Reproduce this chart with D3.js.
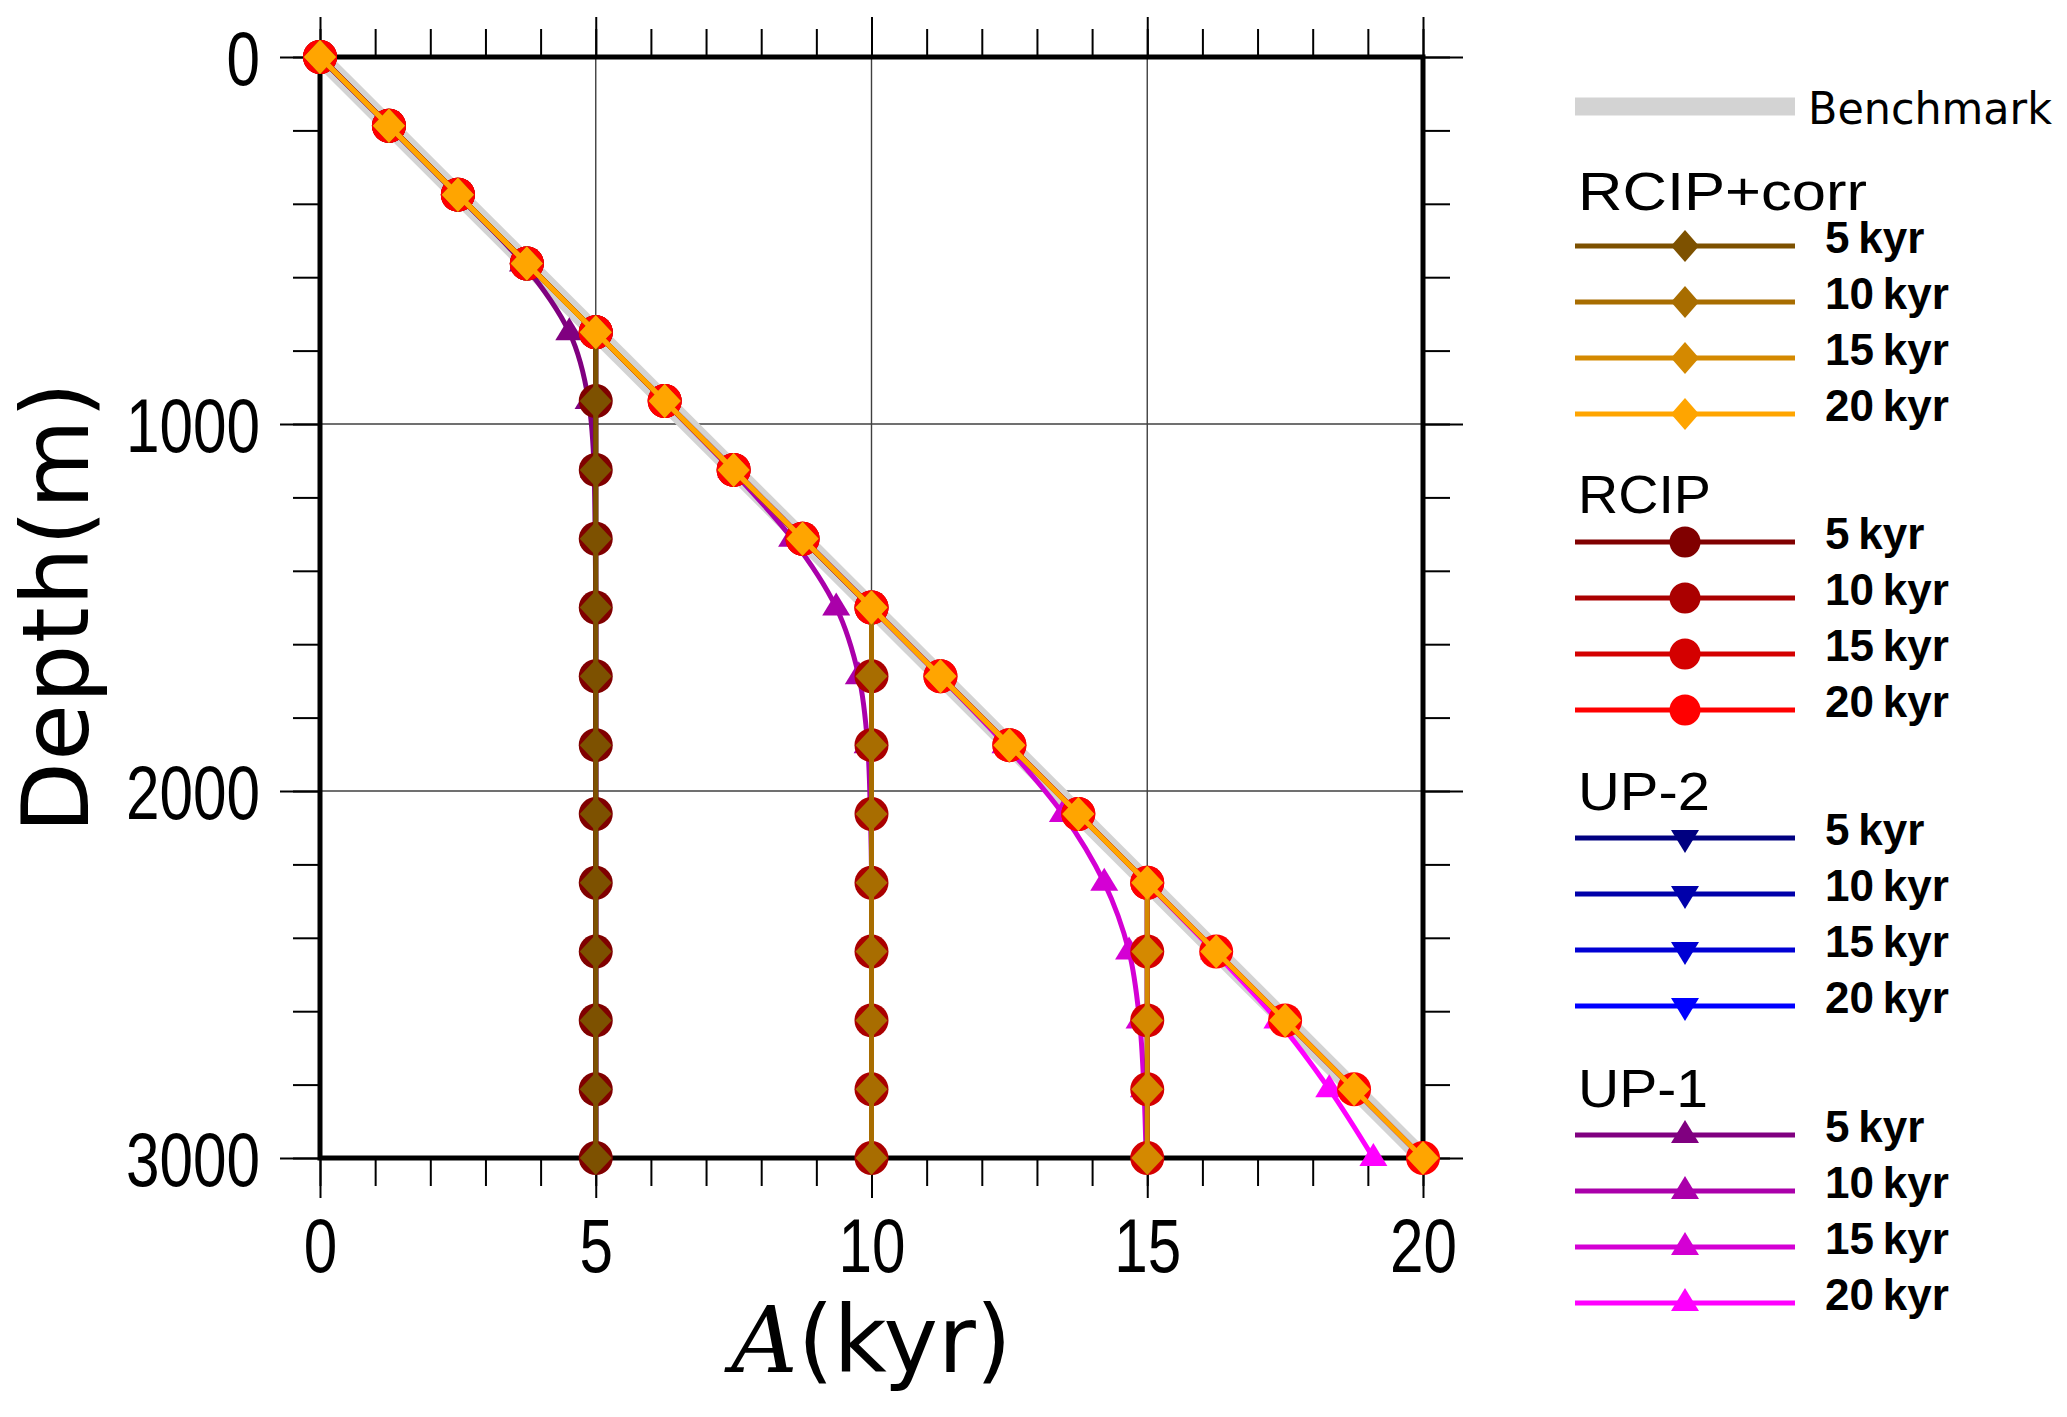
<!DOCTYPE html>
<html>
<head>
<meta charset="utf-8">
<script src="https://cdn.jsdelivr.net/npm/d3@7"></script>
<style>
  body { margin: 0; background: #fff; }
  .tick line { stroke: #000; stroke-width: 2; }
  .tick text { fill: #000; font-family: "Liberation Sans", Arial, sans-serif; font-size: 76px; }
  .grid { stroke: #404040; stroke-width: 1.4; }
  .frame { fill: none; stroke: #000; stroke-width: 5; }
  .leg { font-family: "Liberation Sans", Arial, sans-serif; fill: #000; }
</style>
</head>
<body>
<div id="chart"></div>
<script>
// depth of every sample (m)
var depth = [0, 187.5, 375, 562.5, 750, 937.5, 1125, 1312.5, 1500, 1687.5, 1875, 2062.5, 2250, 2437.5, 2625, 2812.5, 3000];

// benchmark age-depth line
var benchDepth = [0, 3000];
var benchAge = [0, 20];

// RCIP+corr ages (kyr)
var corr5  = [0, 1.25, 2.5, 3.75, 5, 5, 5, 5, 5, 5, 5, 5, 5, 5, 5, 5, 5];
var corr10 = [0, 1.25, 2.5, 3.75, 5, 6.25, 7.5, 8.75, 10, 10, 10, 10, 10, 10, 10, 10, 10];
var corr15 = [0, 1.25, 2.5, 3.75, 5, 6.25, 7.5, 8.75, 10, 11.25, 12.5, 13.75, 15, 15, 15, 15, 15];
var corr20 = [0, 1.25, 2.5, 3.75, 5, 6.25, 7.5, 8.75, 10, 11.25, 12.5, 13.75, 15, 16.25, 17.5, 18.75, 20];

// RCIP ages (kyr)
var rcip5  = [0, 1.25, 2.5, 3.75, 5, 5, 5, 5, 5, 5, 5, 5, 5, 5, 5, 5, 5];
var rcip10 = [0, 1.25, 2.5, 3.75, 5, 6.25, 7.5, 8.75, 10, 10, 10, 10, 10, 10, 10, 10, 10];
var rcip15 = [0, 1.25, 2.5, 3.75, 5, 6.25, 7.5, 8.75, 10, 11.25, 12.5, 13.75, 15, 15, 15, 15, 15];
var rcip20 = [0, 1.25, 2.5, 3.75, 5, 6.25, 7.5, 8.75, 10, 11.25, 12.5, 13.75, 15, 16.25, 17.5, 18.75, 20];

// UP-2 ages (kyr)
var up2_5  = [0, 1.25, 2.5, 3.75, 5, 5, 5, 5, 5, 5, 5, 5, 5, 5, 5, 5, 5];
var up2_10 = [0, 1.25, 2.5, 3.75, 5, 6.25, 7.5, 8.75, 10, 10, 10, 10, 10, 10, 10, 10, 10];
var up2_15 = [0, 1.25, 2.5, 3.75, 5, 6.25, 7.5, 8.75, 10, 11.25, 12.5, 13.75, 15, 15, 15, 15, 15];
var up2_20 = [0, 1.25, 2.5, 3.75, 5, 6.25, 7.5, 8.75, 10, 11.25, 12.5, 13.75, 15, 16.25, 17.5, 18.75, 20];

// UP-1 ages (kyr)
var up1_5  = [0, 1.25, 2.49, 3.68, 4.52, 4.87, 4.97, 4.99, 5, 5, 5, 5, 5, 5, 5, 5, 5];
var up1_10 = [0, 1.25, 2.5, 3.75, 5, 6.24, 7.46, 8.56, 9.36, 9.77, 9.93, 9.98, 10, 10, 10, 10, 10];
var up1_15 = [0, 1.25, 2.5, 3.75, 5, 6.25, 7.5, 8.75, 10, 11.24, 12.43, 13.47, 14.22, 14.67, 14.86, 14.94, 14.98];
var up1_20 = [0, 1.25, 2.5, 3.75, 5, 6.25, 7.5, 8.75, 10, 11.25, 12.5, 13.75, 14.99, 16.21, 17.36, 18.3, 19.1];

var timeLabels = ["5\u2009kyr", "10\u2009kyr", "15\u2009kyr", "20\u2009kyr"];
var xMajor = [0, 5, 10, 15, 20];
var yMajor = [0, 1000, 2000, 3000];

var corrColors = ["#7d5100", "#a86d00", "#d48900", "#ffa500"];
var rcipColors = ["#800000", "#aa0000", "#d40000", "#ff0000"];
var up2Colors = ["#000080", "#0000aa", "#0000d4", "#0000ff"];
var up1Colors = ["#800080", "#aa00aa", "#d400d4", "#ff00ff"];

// groups in legend order; drawn in reverse
var groups = [
  { name: "RCIP+corr", len: 289, shape: "diamond", colors: corrColors, ages: [corr5, corr10, corr15, corr20], curve: d3.curveLinear },
  { name: "RCIP", len: 133, shape: "circle", colors: rcipColors, ages: [rcip5, rcip10, rcip15, rcip20], curve: d3.curveLinear },
  { name: "UP-2", len: 132, shape: "down", colors: up2Colors, ages: [up2_5, up2_10, up2_15, up2_20], curve: d3.curveLinear },
  { name: "UP-1", len: 130, shape: "up", colors: up1Colors, ages: [up1_5, up1_10, up1_15, up1_20], curve: d3.curveMonotoneY }
];

var width = 2067, height = 1417;
var svg = d3.select("#chart").append("svg")
  .attr("width", width)
  .attr("height", height);

var x = d3.scaleLinear().domain([0, 20]).range([320, 1423]);
var y = d3.scaleLinear().domain([0, 3000]).range([57, 1158]);

function marker(shape, big) {
  if (shape == "diamond") return big ? "M0,-17L16,0L0,17L-16,0Z" : "M0,-16L14,0L0,16L-14,0Z";
  if (shape == "circle") { var r = big ? 17 : 15.5; return "M" + r + ",0A" + r + "," + r + " 0 1,1 " + (-r) + ",0A" + r + "," + r + " 0 1,1 " + r + ",0Z"; }
  if (shape == "up") return "M0,-15L14,8L-14,8Z";
  return "M0,15L14,-8L-14,-8Z";
}

// grid lines
svg.append("g").selectAll("line").data([5, 10, 15]).enter().append("line")
  .attr("class", "grid")
  .attr("x1", function(d) { return x(d); }).attr("x2", function(d) { return x(d); })
  .attr("y1", y(0)).attr("y2", y(3000));
svg.append("g").selectAll("line").data([1000, 2000]).enter().append("line")
  .attr("class", "grid")
  .attr("x1", x(0)).attr("x2", x(20))
  .attr("y1", function(d) { return y(d); }).attr("y2", function(d) { return y(d); });

// axes: minor and major ticks on every side
function addAxis(axis, tr, labels) {
  var g = svg.append("g").attr("transform", tr).call(axis);
  g.select(".domain").remove();
  g.attr("font-size", null).attr("font-family", null);
  if (!labels) g.selectAll("text").remove();
  // narrow digits like the original
  g.selectAll("text")
    .attr("textLength", function(d) { return String(d).length * 33.5; })
    .attr("lengthAdjust", "spacingAndGlyphs");
  return g;
}
addAxis(d3.axisTop(x).tickValues(d3.range(0, 21, 1)).tickSize(28), "translate(0," + y(0) + ")", false);
addAxis(d3.axisTop(x).tickValues(xMajor).tickSize(40), "translate(0," + y(0) + ")", false);
addAxis(d3.axisBottom(x).tickValues(d3.range(0, 21, 1)).tickSize(28), "translate(0," + y(3000) + ")", false);
addAxis(d3.axisBottom(x).tickValues(xMajor).tickSize(40).tickPadding(20).tickFormat(d3.format("d")), "translate(0," + y(3000) + ")", true);
addAxis(d3.axisLeft(y).tickValues(d3.range(0, 3001, 200)).tickSize(27), "translate(" + x(0) + ",0)", false);
addAxis(d3.axisLeft(y).tickValues(yMajor).tickSize(40).tickPadding(20).tickFormat(d3.format("d")), "translate(" + x(0) + ",0)", true)
  .selectAll("text").attr("dy", "0.36em");
addAxis(d3.axisRight(y).tickValues(d3.range(0, 3001, 200)).tickSize(27), "translate(" + x(20) + ",0)", false);
addAxis(d3.axisRight(y).tickValues(yMajor).tickSize(40), "translate(" + x(20) + ",0)", false);

// frame
svg.append("rect").attr("class", "frame")
  .attr("x", x(0)).attr("y", y(0))
  .attr("width", x(20) - x(0)).attr("height", y(3000) - y(0));

// benchmark
svg.append("path")
  .datum(d3.zip(benchAge, benchDepth))
  .attr("fill", "none")
  .attr("stroke", "#d3d3d3")
  .attr("stroke-width", 17)
  .attr("d", d3.line().x(function(d) { return x(d[0]); }).y(function(d) { return y(d[1]); }));

// series, UP-1 first so RCIP+corr ends on top
groups.slice().reverse().forEach(function(grp) {
  grp.ages.forEach(function(ages, i) {
    var pts = d3.zip(ages, depth);
    var line = d3.line()
      .x(function(d) { return x(d[0]); })
      .y(function(d) { return y(d[1]); })
      .curve(grp.curve);
    svg.append("path")
      .datum(pts)
      .attr("fill", "none")
      .attr("stroke", grp.colors[i])
      .attr("stroke-width", 5)
      .attr("d", line);
    svg.append("g").selectAll("path").data(pts).enter().append("path")
      .attr("transform", function(d) { return "translate(" + x(d[0]) + "," + y(d[1]) + ")"; })
      .attr("fill", grp.colors[i])
      .attr("d", marker(grp.shape, true));
  });
});

// axis titles
svg.append("text")
  .attr("transform", "translate(88," + ((y(0) + y(3000)) / 2) + ")rotate(-90)")
  .attr("text-anchor", "middle")
  .attr("font-family", "DejaVu Sans, sans-serif")
  .attr("font-size", 92)
  .attr("textLength", 451)
  .attr("lengthAdjust", "spacing")
  .text("Depth(m)");

var xt = svg.append("text")
  .attr("x", (x(0) + x(20)) / 2)
  .attr("y", 1372)
  .attr("text-anchor", "middle")
  .attr("font-family", "DejaVu Sans, sans-serif")
  .attr("font-size", 92);
xt.append("tspan").attr("font-family", "DejaVu Serif, serif").attr("font-style", "italic").text("A");
xt.append("tspan").text("(kyr)");

// legend
var legX0 = 1575, legX1 = 1795, legM = 1685, legText = 1825;
svg.append("line")
  .attr("x1", legX0).attr("x2", legX1)
  .attr("y1", 106.5).attr("y2", 106.5)
  .attr("stroke", "#d3d3d3").attr("stroke-width", 18);
svg.append("text")
  .attr("x", 1808).attr("y", 124)
  .attr("font-family", "DejaVu Sans, sans-serif")
  .attr("font-size", 44)
  .attr("textLength", 244).attr("lengthAdjust", "spacingAndGlyphs")
  .text("Benchmark");

var headerY = [210, 513, 810, 1107];
var entryY0 = [246, 542, 838, 1135];
groups.forEach(function(grp, g) {
  svg.append("text").attr("class", "leg")
    .attr("x", 1578).attr("y", headerY[g])
    .attr("font-size", 53)
    .attr("textLength", grp.len).attr("lengthAdjust", "spacingAndGlyphs")
    .text(grp.name);
  grp.colors.forEach(function(c, i) {
    var ly = entryY0[g] + i * 56;
    svg.append("line")
      .attr("x1", legX0).attr("x2", legX1)
      .attr("y1", ly).attr("y2", ly)
      .attr("stroke", c).attr("stroke-width", 5);
    svg.append("path")
      .attr("transform", "translate(" + legM + "," + ly + ")")
      .attr("fill", c)
      .attr("d", marker(grp.shape, false));
    svg.append("text").attr("class", "leg")
      .attr("x", legText).attr("y", ly + 7)
      .attr("font-size", 44)
      .attr("font-weight", "bold")
      .text(timeLabels[i]);
  });
});
</script>
</body>
</html>
